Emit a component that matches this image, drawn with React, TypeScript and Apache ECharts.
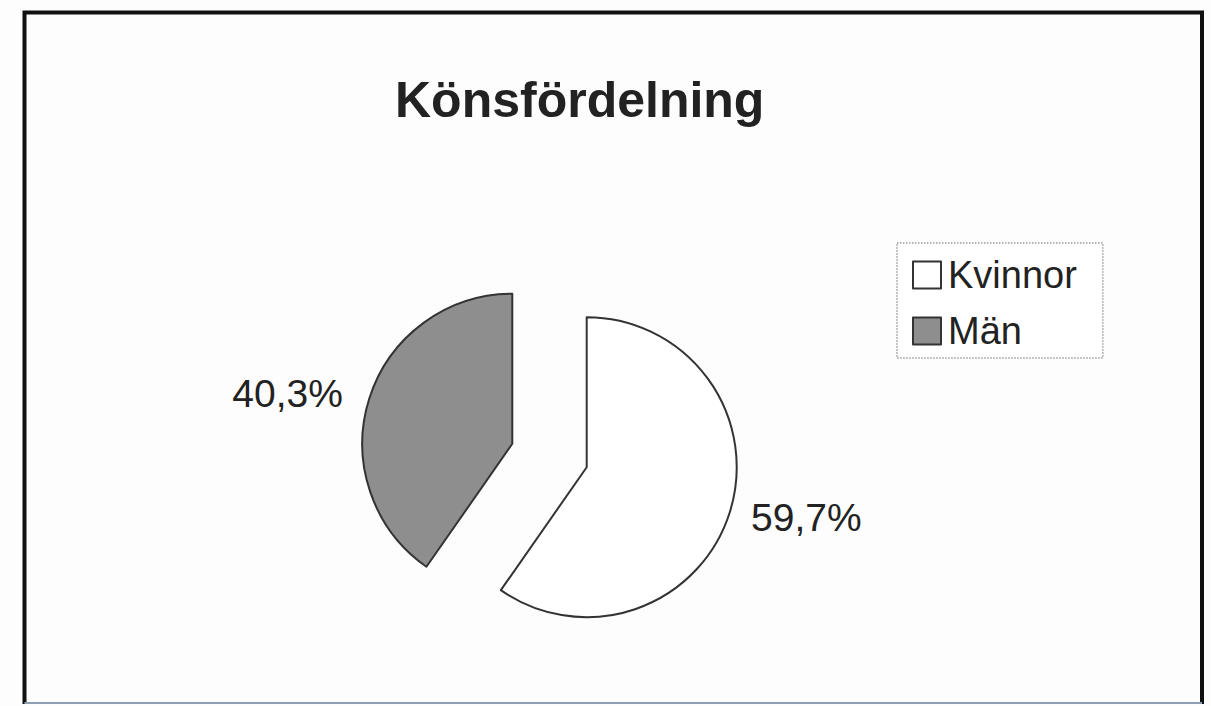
import React, { useEffect, useRef } from "react";
import * as echarts from "echarts";

const title = "Könsfördelning";
const categories = ["Kvinnor", "Män"];
const values = [59.7, 40.3];
const sliceColors = ["#ffffff", "#8e8e8e"];

const FONT = "'Liberation Sans', Arial, sans-serif";

export default function App() {
  const ref = useRef<HTMLDivElement>(null);
  useEffect(() => {
    if (!ref.current) return;
    const chart = echarts.init(ref.current, null, { renderer: "svg" });
    const data = categories.map((name, i) => ({
      name,
      value: values[i],
      selected: true,
      itemStyle: { color: sliceColors[i] },
      ...(i === 0
        ? {
            label: { distanceToLabelLine: 3 },
            labelLine: { show: false, length: 16, length2: 3 },
          }
        : {}),
    }));
    chart.setOption({
      animation: false,
      backgroundColor: "#fdfdfd",
      title: {
        text: title,
        left: 390,
        top: 70,
        textStyle: { fontFamily: FONT, fontSize: 50, fontWeight: "bold", color: "#222" },
      },
      legend: {
        orient: "vertical",
        left: 897,
        top: 243,
        padding: [13, 26, 8, 15],
        itemGap: 18,
        itemWidth: 28,
        itemHeight: 27,
        itemStyle: { borderColor: "#333", borderWidth: 2 },
        icon: "rect",
        selectedMode: false,
        backgroundColor: "#ffffff",
        borderColor: "#9a9a9a",
        borderType: "dotted",
        borderWidth: 1.5,
        textStyle: { fontFamily: FONT, fontSize: 38, color: "#222", padding: [0, 0, 0, 2] },
        data: categories,
      },
      graphic: [
        {
          type: "polyline",
          shape: { points: [[24.5, 704], [24.5, 12.5], [1202, 12.5], [1202, 704]] },
          style: { stroke: "#111", lineWidth: 4, fill: null },
          z: 10,
        },
        {
          type: "line",
          shape: { x1: 24.5, y1: 703, x2: 1202, y2: 703 },
          style: { stroke: "#8f9fb3", lineWidth: 2 },
          z: 10,
        },
      ],
      series: [
        {
          type: "pie",
          center: [549.5, 455.5],
          radius: 150,
          startAngle: 90,
          clockwise: true,
          selectedMode: "multiple",
          selectedOffset: 39,
          avoidLabelOverlap: false,
          itemStyle: { borderColor: "#333", borderWidth: 2 },
          emphasis: { disabled: true },
          label: {
            show: true,
            position: "outside",
            fontFamily: FONT,
            fontSize: 39,
            color: "#222",
            distanceToLabelLine: 5,
            formatter: (p: any) => p.value.toFixed(1).replace(".", ",") + "%",
          },
          labelLine: { show: false, length: 16, length2: 6 },
          data,
        },
      ],
    });
    return () => chart.dispose();
  }, []);
  return (
    <div
      ref={ref}
      style={{ position: "fixed", left: 0, top: 0, width: 1211, height: 706 }}
    />
  );
}
